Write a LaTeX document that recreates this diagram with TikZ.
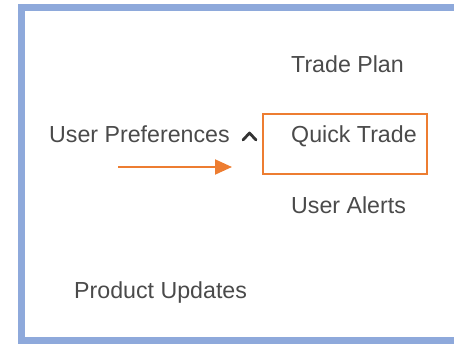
\documentclass[tikz,border=0pt]{standalone}
\usepackage{fontspec}
\setmainfont{Liberation Sans}
\usetikzlibrary{arrows.meta}
\definecolor{frameblue}{HTML}{8EA9DB}
\definecolor{hlorange}{HTML}{ED7D31}
\definecolor{menugray}{HTML}{4A4A4A}

\begin{document}
\begin{tikzpicture}[x = 1pt, y = -1pt,
  menuitem/.style = {anchor=base west, inner sep=0pt, text=menugray,
    font=\fontsize{23.2}{27}\selectfont},
  hlbox/.style = {draw=hlorange, line width=2pt, minimum width=164pt,
    minimum height=60pt, inner sep=0pt}]
\useasboundingbox (0,0) rectangle (454,344);
% panel frame, open to the right
\draw[frameblue, line width=6.5pt] (470,7.5) -- (21.5,7.5) -- (21.5,340.5) -- (470,340.5);

\node[menuitem] (tradeplan) at (291,73) {Trade Plan};
\node[menuitem] (userprefs) at (49,143) {User Preferences};
\node[menuitem] (quicktrade) at (291,143) {Quick Trade};
\node[menuitem] (useralerts) at (291,214) {User Alerts};
\node[menuitem] (produpdates) at (74,298) {Product Updates};

% collapse caret
\coordinate (caret) at (249.5,133);
\draw[black!80, line width=2.8pt, line cap=round, line join=round]
  ([shift={(-6.5,7)}]caret) -- (caret) -- ([shift={(6.5,7)}]caret);

\node[hlbox] (qtbox) at (345,144) {};
\coordinate (arrstart) at (118,167);
\coordinate (arrend) at (232,167);
\draw[hlorange, line width=2pt, -{Triangle[length=17pt,width=15pt]}] (arrstart) -- (arrend);
\end{tikzpicture}
\end{document}
